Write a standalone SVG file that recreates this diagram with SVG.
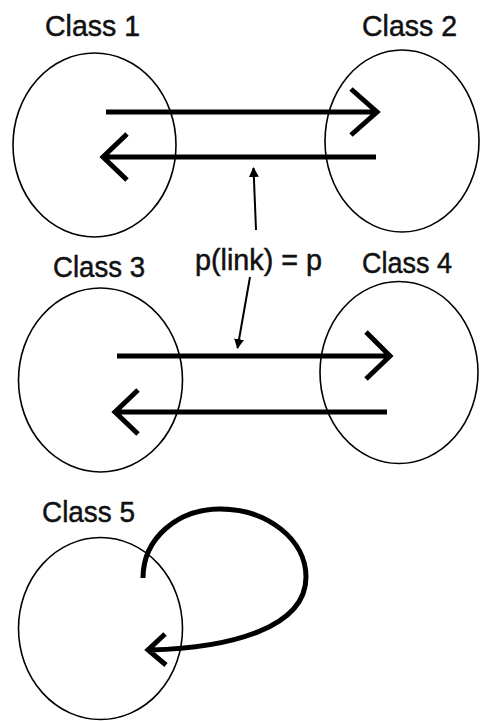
<svg xmlns="http://www.w3.org/2000/svg" width="480" height="721" viewBox="0 0 480 721">
<style>
.node{fill:none;stroke:#000;stroke-width:1.6}
.lbl{font-family:"Liberation Sans",Arial,sans-serif;font-size:30px;fill:#111;stroke:#111;stroke-width:0.5}
.link{fill:none;stroke:#000;stroke-width:5}
.ptr{fill:none;stroke:#000;stroke-width:2}
</style>
<defs>
<marker id="tri" markerWidth="10" markerHeight="10" refX="9" refY="5" orient="auto" markerUnits="userSpaceOnUse" viewBox="0 0 10 10">
<path d="M0,0 L10,5 L0,10 z" fill="#000"/>
</marker>
</defs>
<rect width="480" height="721" fill="#fff"/>
<g id="class1"><ellipse class="node" cx="94.5" cy="145" rx="81.5" ry="92"/><text class="lbl" x="45" y="36" textLength="95" lengthAdjust="spacingAndGlyphs">Class 1</text></g>
<g id="class2"><ellipse class="node" cx="402" cy="141" rx="77" ry="91"/><text class="lbl" x="362" y="36" textLength="95" lengthAdjust="spacingAndGlyphs">Class 2</text></g>
<g id="class3"><ellipse class="node" cx="100.5" cy="380" rx="82" ry="92"/><text class="lbl" x="53" y="277" textLength="92" lengthAdjust="spacingAndGlyphs">Class 3</text></g>
<g id="class4"><ellipse class="node" cx="399" cy="372.5" rx="79" ry="91"/><text class="lbl" x="362" y="273" textLength="90" lengthAdjust="spacingAndGlyphs">Class 4</text></g>
<g id="class5"><ellipse class="node" cx="100.5" cy="628.5" rx="82" ry="91"/><text class="lbl" x="42" y="522" textLength="93" lengthAdjust="spacingAndGlyphs">Class 5</text></g>
<g id="label"><text class="lbl" x="195" y="270" textLength="127" lengthAdjust="spacingAndGlyphs">p(link) = p</text></g>
<g id="connectors">
<path class="link" d="M106,112 H376 M351,89 L377,112 L351,135"/>
<path class="link" d="M376,157 H104 M127,134 L103,157 L127,180"/>
<path class="link" d="M117,356 H389 M366,332 L390,356 L366,379"/>
<path class="link" d="M387,412 H116 M138,390 L115,412 L138,434"/>
<path class="link" d="M143,578 C143,538 178,509 220,509 C268,509 306,540 306,577 C306,628 230,648 150,650 M165,634 L148,650 L166,665"/>
<line class="ptr" x1="256" y1="230" x2="253.5" y2="168" marker-end="url(#tri)"/>
<line class="ptr" x1="250" y1="277" x2="237.5" y2="348" marker-end="url(#tri)"/>
</g>
</svg>
